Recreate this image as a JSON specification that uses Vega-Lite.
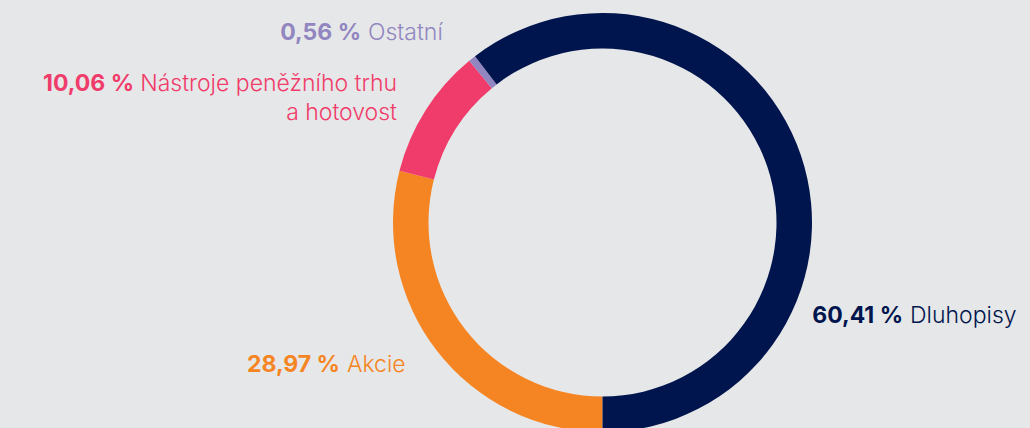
{
  "$schema": "https://vega.github.io/schema/vega-lite/v6.json",
  "width": 855,
  "height": 411,
  "autosize": {"type": "none"},
  "padding": {"left": 175, "top": 17, "right": 0, "bottom": 0},
  "background": "#e6e7e8",
  "config": {"view": {"stroke": null}, "text": {"font": "Inter", "fontSize": 23}},
  "data": {
    "values": [
      {"kategorie": "Akcie", "podil": 28.97, "hodnota": "28,97 %", "poradi": 1},
      {"kategorie": "Nástroje peněžního trhu\na hotovost", "podil": 10.06, "hodnota": "10,06 %", "poradi": 2},
      {"kategorie": "Ostatní", "podil": 0.56, "hodnota": "0,56 %", "poradi": 3},
      {"kategorie": "Dluhopisy", "podil": 60.41, "hodnota": "60,41 %", "poradi": 4}
    ]
  },
  "encoding": {
    "theta": {"field": "podil", "type": "quantitative", "stack": true, "scale": {"range": [3.14159265, 9.42477796]}},
    "order": {"field": "poradi", "type": "quantitative"},
    "color": {
      "field": "kategorie",
      "type": "nominal",
      "scale": {
        "domain": ["Akcie", "Nástroje peněžního trhu\na hotovost", "Ostatní", "Dluhopisy"],
        "range": ["#f58523", "#f03c6a", "#9186c0", "#00154d"]
      },
      "legend": null
    }
  },
  "layer": [
    {"mark": {"type": "arc", "outerRadius": 209.5, "innerRadius": 174}},
    {
      "mark": {"type": "text", "radius": 210, "align": "right", "baseline": "alphabetic", "fontWeight": 700, "dx": 101.7, "dy": 168},
      "encoding": {"text": {"condition": {"test": "datum.poradi == 4", "field": "hodnota"}, "value": ""}}
    },
    {
      "mark": {"type": "text", "radius": 210, "align": "left", "baseline": "alphabetic", "fontWeight": 300, "dx": 108.7, "dy": 168},
      "encoding": {"text": {"condition": {"test": "datum.poradi == 4", "field": "kategorie"}, "value": ""}}
    },
    {
      "mark": {"type": "text", "radius": 210, "align": "right", "baseline": "alphabetic", "fontWeight": 700, "dx": -110.8, "dy": -18.2},
      "encoding": {"text": {"condition": {"test": "datum.poradi == 3", "field": "hodnota"}, "value": ""}}
    },
    {
      "mark": {"type": "text", "radius": 210, "align": "left", "baseline": "alphabetic", "fontWeight": 300, "dx": -103.8, "dy": -18.2},
      "encoding": {"text": {"condition": {"test": "datum.poradi == 3", "field": "kategorie"}, "value": ""}}
    },
    {
      "mark": {"type": "text", "radius": 210, "align": "right", "baseline": "alphabetic", "fontWeight": 700, "dx": -291.2, "dy": -19},
      "encoding": {"text": {"condition": {"test": "datum.poradi == 2", "field": "hodnota"}, "value": ""}}
    },
    {
      "mark": {"type": "text", "radius": 210, "align": "right", "baseline": "alphabetic", "fontWeight": 300, "dx": -28.2, "dy": -19, "lineBreak": "\n", "lineHeight": 29},
      "encoding": {"text": {"condition": {"test": "datum.poradi == 2", "field": "kategorie"}, "value": ""}}
    },
    {
      "mark": {"type": "text", "radius": 210, "align": "right", "baseline": "alphabetic", "fontWeight": 700, "dx": -96.7, "dy": 20.6},
      "encoding": {"text": {"condition": {"test": "datum.poradi == 1", "field": "hodnota"}, "value": ""}}
    },
    {
      "mark": {"type": "text", "radius": 210, "align": "left", "baseline": "alphabetic", "fontWeight": 300, "dx": -89.7, "dy": 20.6},
      "encoding": {"text": {"condition": {"test": "datum.poradi == 1", "field": "kategorie"}, "value": ""}}
    }
  ]
}
